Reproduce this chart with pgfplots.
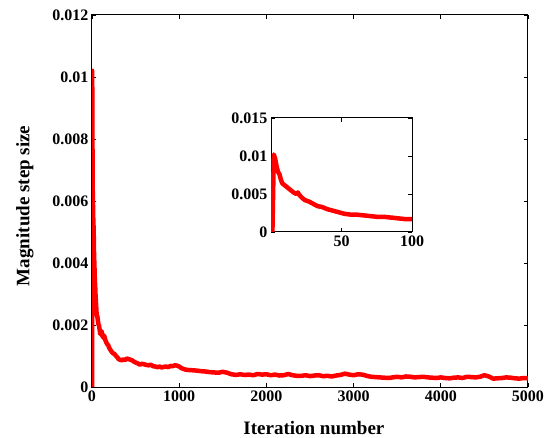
\documentclass[border=0pt]{standalone}
\usepackage{fontspec}
\setmainfont{Liberation Serif}
\usepackage{pgfplots}
\usepackage{pgfplotstable}
\pgfplotsset{compat=1.18}
\pgfplotstableread{
x y
1 0
2 0.0102
3 0.0096
4 0.0086
5 0.0079
6 0.0076
7 0.0069
8 0.0064
10 0.0061
12 0.0058
14 0.0055
16 0.0052
18 0.0050
19 0.0052
20 0.0049
22 0.0045
24 0.0042
27 0.0040
30 0.0037
33 0.0034
36 0.0033
40 0.0030
44 0.0028
48 0.0026
52 0.0024
56 0.0023
60 0.0023
65 0.0022
70 0.0021
75 0.0020
80 0.0020
85 0.0019
90 0.0018
95 0.0017
100 0.0017
110 0.0018
125 0.0016
140 0.00165
155 0.0015
170 0.00140
185 0.00135
200 0.00125
215 0.00118
230 0.00112
245 0.00108
260 0.00106
275 0.00100
290 0.00096
305 0.00090
320 0.00088
340 0.00086
360 0.00089
380 0.00087
400 0.00092
420 0.00090
440 0.00088
460 0.00086
480 0.00082
500 0.00079
525 0.00076
550 0.00072
575 0.00075
600 0.00073
625 0.00071
650 0.00070
675 0.00072
700 0.00067
725 0.00066
750 0.00064
775 0.00066
800 0.00063
825 0.00065
850 0.00066
875 0.00064
900 0.00068
925 0.00067
950 0.00070
975 0.00069
1000 0.00066
1025 0.00061
1050 0.00058
1075 0.00056
1100 0.00055
1150 0.00054
1200 0.00053
1250 0.00051
1300 0.00050
1350 0.00048
1400 0.00047
1450 0.00046
1500 0.00049
1550 0.00046
1600 0.00041
1650 0.00039
1700 0.00041
1750 0.00039
1800 0.00040
1850 0.00038
1900 0.00042
1950 0.00040
2000 0.00041
2050 0.00038
2100 0.00040
2150 0.00037
2200 0.00038
2250 0.00042
2300 0.00038
2350 0.00036
2400 0.00036
2450 0.00038
2500 0.00035
2550 0.00037
2600 0.00038
2650 0.00035
2700 0.00036
2750 0.00034
2800 0.00037
2850 0.00039
2900 0.00043
2950 0.00040
3000 0.00038
3050 0.00041
3100 0.00040
3150 0.00036
3200 0.00033
3250 0.00032
3300 0.00031
3350 0.00030
3400 0.00029
3450 0.00031
3500 0.00033
3550 0.00031
3600 0.00034
3650 0.00033
3700 0.00031
3750 0.00032
3800 0.00033
3850 0.00031
3900 0.00030
3950 0.00029
4000 0.00031
4050 0.00029
4100 0.00028
4150 0.00030
4200 0.00031
4250 0.00029
4300 0.00033
4350 0.00032
4400 0.00031
4450 0.00033
4500 0.00038
4550 0.00034
4600 0.00027
4650 0.00028
4700 0.00029
4750 0.00031
4800 0.00030
4850 0.00028
4900 0.00027
4950 0.00029
5000 0.00028
}\stepdata
\pgfplotsset{
  every axis/.append style={
    /pgf/number format/assume math mode=true,
    tick label style={font=\bfseries\fontsize{16bp}{18bp}\selectfont},
    axis line style={line width=1bp},
    every tick/.style={black, line width=0.8bp},
    major tick length=4bp,
    scaled ticks=false,
    tick align=inside,
  },
}
\begin{document}
\begin{tikzpicture}
\useasboundingbox (-92bp,-51bp) rectangle (456bp,387bp);
\begin{axis}[
  scale only axis, width=436bp, height=372bp,
  at={(0,0)}, anchor=south west,
  xmin=0, xmax=5000, ymin=0, ymax=0.012,
  xtick={0,1000,...,5000},
  ytick={0,0.002,0.004,0.006,0.008,0.01,0.012},
  x tick label style={/pgf/number format/1000 sep={}},
  y tick label style={/pgf/number format/.cd, fixed, precision=3},
  xlabel={Iteration number},
  ylabel={Magnitude step size},
  label style={font=\bfseries\fontsize{19bp}{22bp}\selectfont},
  xlabel style={at={(axis description cs:0.509,-0.129)}, anchor=base},
  ylabel style={at={(axis description cs:-0.154,0.487)}, anchor=center},
]
\addplot[red, line width=4.5bp, line join=round] table {\stepdata};
\end{axis}
\begin{axis}[
  scale only axis, width=141bp, height=114bp,
  at={(179bp,155bp)}, anchor=south west,
  axis background/.style={fill=white},
  xmin=0, xmax=100, ymin=0, ymax=0.015,
  xtick={50,100},
  ytick={0,0.005,0.01,0.015},
  y tick label style={/pgf/number format/.cd, fixed, precision=3},
]
\addplot[red, line width=4.5bp, line join=round] table {\stepdata};
\end{axis}
\end{tikzpicture}
\end{document}
